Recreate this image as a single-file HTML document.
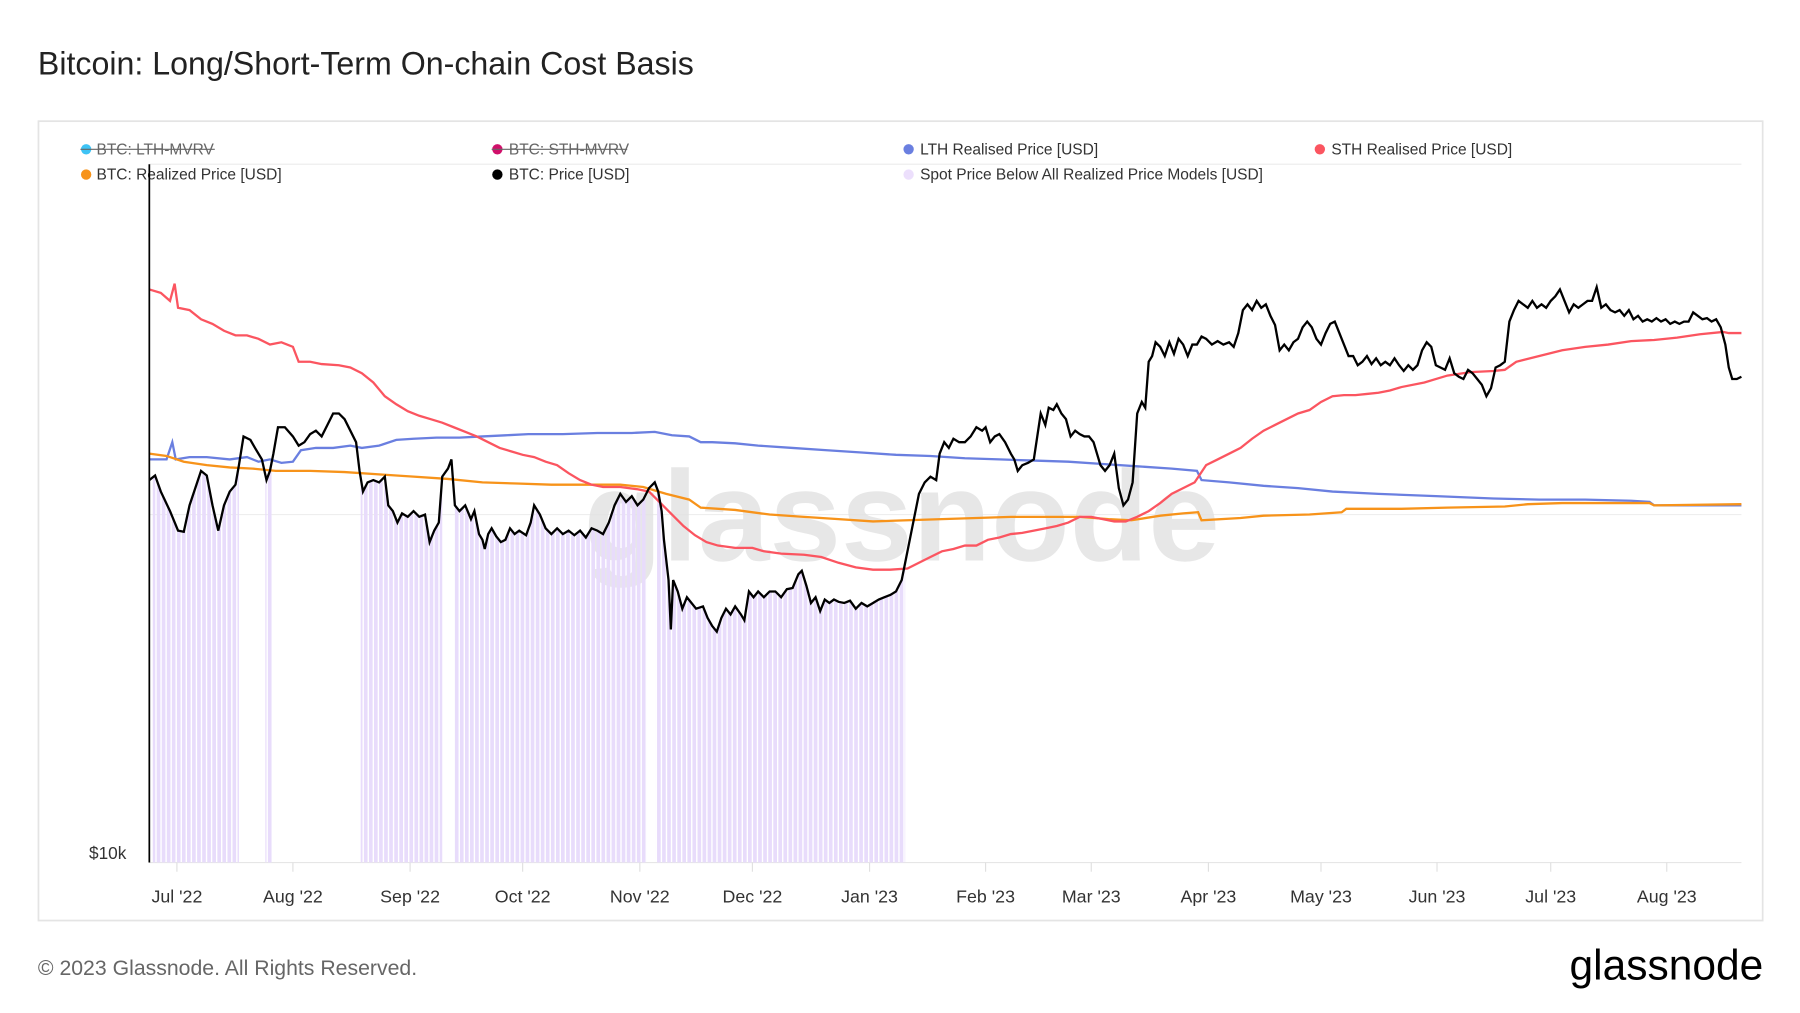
<!DOCTYPE html>
<html><head><meta charset="utf-8"><style>
html,body{margin:0;padding:0;background:#fff;}
svg{display:block;}
text{font-family:"Liberation Sans",sans-serif;}
</style></head><body>
<svg width="1800" height="1013" viewBox="0 0 1567 882" preserveAspectRatio="none" xmlns="http://www.w3.org/2000/svg">
<defs>
<pattern id="stripe" width="4.4" height="10" patternUnits="userSpaceOnUse">
<rect x="0" y="0" width="3.2" height="10" fill="#e8dcfb"/>
</pattern>
<clipPath id="below">
<polygon id="clipPoly" points=""/>
</clipPath>
</defs>
<text x="33" y="65" font-size="28" fill="#222">Bitcoin: Long/Short-Term On-chain Cost Basis</text>
<rect x="33.5" y="105.5" width="1501" height="696" fill="#fff" stroke="#e4e4e4" stroke-width="1.5"/>
<g font-size="13.5" fill="#333">
<circle cx="75" cy="130" r="4.5" fill="#3ec3f5"/><text x="84" y="134.5" fill="#666">BTC: LTH-MVRV</text><line x1="70" y1="130" x2="187" y2="130" stroke="#666" stroke-width="1"/>
<circle cx="433" cy="130" r="4.5" fill="#d0106a"/><text x="443" y="134.5" fill="#666">BTC: STH-MVRV</text><line x1="428" y1="130" x2="546" y2="130" stroke="#666" stroke-width="1"/>
<circle cx="791" cy="130" r="4.5" fill="#6a7fe0"/><text x="801" y="134.5">LTH Realised Price [USD]</text>
<circle cx="1149" cy="130" r="4.5" fill="#fb5560"/><text x="1159" y="134.5">STH Realised Price [USD]</text>
<circle cx="75" cy="152" r="4.5" fill="#f7931a"/><text x="84" y="156.5">BTC: Realized Price [USD]</text>
<circle cx="433" cy="152" r="4.5" fill="#000"/><text x="443" y="156.5">BTC: Price [USD]</text>
<circle cx="791" cy="152" r="4.5" fill="#ecdffc"/><text x="801" y="156.5">Spot Price Below All Realized Price Models [USD]</text>
</g>
<line x1="130" y1="143" x2="1516" y2="143" stroke="#eee"/>
<line x1="130" y1="448" x2="1516" y2="448" stroke="#eee"/>
<line x1="130" y1="751" x2="1516" y2="751" stroke="#e6e6e6"/>
<text x="785" y="488" font-size="112" fill="#e2e2e2" text-anchor="middle" font-weight="bold" opacity="0.8">glassnode</text>
<g id="bars" clip-path="url(#below)">
<rect x="133" y="143" width="75" height="608" fill="url(#stripe)"/>
<rect x="231" y="143" width="6" height="608" fill="url(#stripe)"/>
<rect x="314" y="143" width="71" height="608" fill="url(#stripe)"/>
<rect x="395" y="143" width="168" height="608" fill="url(#stripe)"/>
<rect x="571" y="143" width="217" height="608" fill="url(#stripe)"/>
</g>
<polyline fill="none" stroke="#6a7fe0" stroke-width="2" points="130,400 145,400 150,385 153,400 165,398 180,398 200,400 215,398 225,402 235,400 245,403 255,402 262,392 275,390 290,390 305,388 315,390 330,388 345,383 360,382 380,381 400,381 420,380 440,379 460,378 490,378 520,377 550,377 570,376 585,379 600,380 610,385 620,385 640,386 660,388 690,390 720,392 750,394 780,396 810,397 840,399 870,400 900,401 930,402 960,404 990,406 1020,408 1042,410 1046,418 1070,420 1100,423 1130,425 1160,428 1200,430 1250,432 1300,434 1340,435 1380,435 1420,436 1436,437 1440,440 1516,440"/>
<polyline fill="none" stroke="#f7931a" stroke-width="2" points="130,395 145,397 160,402 180,405 200,407 220,408 240,410 270,410 300,411 330,413 360,415 390,417 420,420 450,421 480,422 510,422 540,422 560,424 580,430 600,435 610,442 640,444 670,448 700,450 730,452 760,454 790,453 820,452 850,451 880,450 910,450 940,450 965,452 985,453 1010,449 1030,447 1043,446 1046,453 1080,451 1100,449 1140,448 1168,446 1172,443 1220,443 1260,442 1310,441 1330,439 1360,438 1400,438 1436,438 1440,440 1516,439"/>
<polyline fill="none" stroke="#fb5560" stroke-width="2" points="130,252 140,255 148,262 152,247 155,268 165,270 175,278 185,282 195,288 205,292 215,292 225,295 235,300 245,298 255,302 260,315 270,315 280,317 295,318 305,320 315,325 325,333 335,345 345,352 355,358 365,362 375,365 385,368 395,372 405,376 415,380 425,385 435,390 445,393 455,396 465,398 475,402 485,405 495,412 505,418 515,422 525,424 540,424 555,426 565,428 575,438 585,448 595,458 605,466 615,472 625,475 640,477 655,477 665,480 680,482 700,483 715,485 730,490 745,494 760,496 775,496 790,495 800,490 810,485 820,480 830,478 840,475 850,475 860,470 870,468 880,465 890,464 900,462 910,460 920,458 930,455 940,450 950,450 960,452 970,454 980,454 990,450 1000,445 1010,438 1020,430 1030,425 1040,420 1050,405 1060,400 1070,395 1080,390 1090,382 1100,375 1110,370 1120,365 1130,360 1140,357 1150,350 1160,345 1170,344 1180,344 1190,343 1200,342 1210,340 1220,337 1240,333 1260,327 1280,324 1300,323 1310,322 1320,315 1340,310 1360,305 1380,302 1400,300 1420,297 1440,296 1460,294 1480,291 1500,289 1505,290 1516,290"/>
<polyline id="price" fill="none" stroke="#000" stroke-width="2" points="130,418 135,414 140,428 148,445 155,462 160,463 165,440 170,425 175,410 180,414 185,440 190,462 195,440 200,428 205,422 208,405 212,380 218,383 222,390 228,400 232,418 235,410 238,395 242,372 248,372 255,380 260,388 265,385 270,378 275,375 280,380 285,370 290,360 295,360 300,365 305,375 310,385 313,410 316,428 320,420 325,418 330,420 335,415 338,440 342,445 346,455 350,447 355,450 360,445 365,450 370,448 374,472 378,462 382,455 385,415 390,408 393,400 396,440 400,445 405,440 410,452 413,445 417,465 420,470 422,478 425,465 428,460 432,467 436,472 440,470 444,460 448,465 452,462 458,466 462,455 465,440 470,448 475,460 480,465 485,460 490,465 495,462 500,466 505,462 510,468 515,460 520,462 525,465 530,455 535,440 540,430 545,437 550,432 555,440 560,435 565,425 570,420 573,428 576,445 578,470 582,505 584,548 586,505 590,515 594,530 598,520 602,525 606,530 612,528 616,538 620,545 624,550 628,538 632,530 636,535 640,528 645,535 648,540 652,515 656,520 660,515 665,520 670,515 675,515 680,520 685,513 690,512 695,500 698,497 702,510 706,525 710,520 714,532 718,522 722,525 726,522 730,524 735,525 740,523 745,530 750,525 755,528 760,525 765,522 770,520 775,518 780,515 785,505 788,490 792,470 796,450 800,430 805,420 810,415 815,418 818,395 822,385 826,390 830,382 835,385 840,385 845,380 850,372 855,375 858,372 862,385 866,380 870,378 875,385 880,395 883,400 886,410 890,405 895,403 900,400 903,380 906,360 910,370 913,355 917,357 920,352 924,360 928,365 932,380 936,375 940,378 944,380 948,380 952,385 955,395 958,405 962,410 966,405 970,395 974,425 978,440 982,435 986,420 990,360 994,350 997,355 1000,315 1003,310 1006,298 1010,302 1014,310 1018,298 1022,308 1026,295 1030,300 1034,310 1038,300 1042,300 1046,293 1050,295 1055,300 1060,297 1065,300 1070,298 1074,302 1078,290 1082,270 1086,265 1090,270 1094,262 1098,268 1102,265 1106,275 1110,283 1114,305 1118,300 1122,305 1126,298 1130,295 1134,285 1138,280 1142,285 1146,295 1150,300 1154,290 1158,282 1162,280 1166,290 1170,300 1174,310 1178,310 1182,318 1186,315 1190,310 1194,317 1198,312 1202,318 1206,315 1210,318 1214,312 1218,318 1222,323 1226,318 1230,322 1234,318 1238,305 1242,298 1246,302 1250,318 1254,320 1258,322 1262,312 1266,325 1270,328 1274,330 1278,322 1282,325 1286,330 1290,335 1294,345 1298,338 1302,320 1306,318 1310,315 1314,280 1318,270 1322,262 1326,265 1330,268 1334,262 1338,268 1342,265 1346,268 1350,262 1354,258 1358,252 1362,262 1366,272 1370,265 1374,268 1378,265 1382,262 1386,262 1390,250 1394,268 1398,265 1402,270 1406,272 1410,270 1414,275 1418,270 1422,278 1426,275 1430,280 1434,278 1438,280 1442,277 1446,280 1450,278 1454,282 1458,280 1462,282 1466,280 1470,280 1474,272 1478,275 1482,278 1486,277 1490,280 1494,278 1498,285 1502,300 1505,320 1508,330 1512,330 1516,328"/>
<line x1="130" y1="143" x2="130" y2="751" stroke="#000" stroke-width="1.5"/>
<text x="110" y="748" font-size="15" fill="#333" text-anchor="end">$10k</text>
<g stroke="#e0e0e0" stroke-width="1">
<line x1="154" y1="751" x2="154" y2="759"/><line x1="255" y1="751" x2="255" y2="759"/><line x1="357" y1="751" x2="357" y2="759"/><line x1="455" y1="751" x2="455" y2="759"/><line x1="557" y1="751" x2="557" y2="759"/><line x1="655" y1="751" x2="655" y2="759"/><line x1="757" y1="751" x2="757" y2="759"/><line x1="858" y1="751" x2="858" y2="759"/><line x1="950" y1="751" x2="950" y2="759"/><line x1="1052" y1="751" x2="1052" y2="759"/><line x1="1150" y1="751" x2="1150" y2="759"/><line x1="1251" y1="751" x2="1251" y2="759"/><line x1="1350" y1="751" x2="1350" y2="759"/><line x1="1451" y1="751" x2="1451" y2="759"/>
</g>
<g font-size="15.5" fill="#333" text-anchor="middle">
<text x="154" y="786">Jul '22</text><text x="255" y="786">Aug '22</text><text x="357" y="786">Sep '22</text><text x="455" y="786">Oct '22</text><text x="557" y="786">Nov '22</text><text x="655" y="786">Dec '22</text><text x="757" y="786">Jan '23</text><text x="858" y="786">Feb '23</text><text x="950" y="786">Mar '23</text><text x="1052" y="786">Apr '23</text><text x="1150" y="786">May '23</text><text x="1251" y="786">Jun '23</text><text x="1350" y="786">Jul '23</text><text x="1451" y="786">Aug '23</text>
</g>
<text x="33" y="849" font-size="18.5" fill="#666">© 2023 Glassnode. All Rights Reserved.</text>
<text x="1535" y="853" font-size="37" fill="#000" text-anchor="end">glassnode</text>
</svg>
<script>
var p=document.getElementById('price').getAttribute('points').trim();
document.getElementById('clipPoly').setAttribute('points',p+' 1516,751 130,751');
</script>
</body></html>
